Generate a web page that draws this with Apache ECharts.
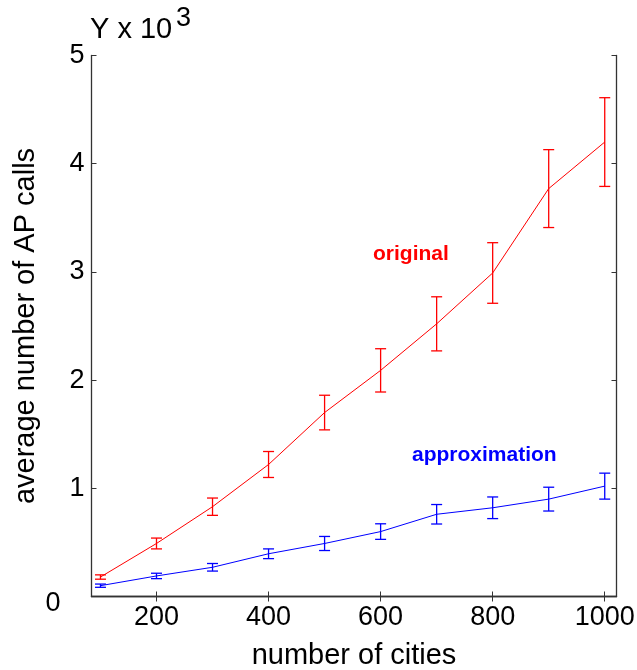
<!DOCTYPE html>
<html>
<head>
<meta charset="utf-8">
<script src="https://cdn.jsdelivr.net/npm/echarts@6/dist/echarts.min.js"></script>
<style>
  html, body { margin: 0; padding: 0; background: #fff; }
  #chart { width: 637px; height: 670px; }
</style>
</head>
<body>
<div id="chart"></div>
<script>
// Number of cities (x) and average AP calls in thousands (y) with error half-widths
const cities = [100, 200, 300, 400, 500, 600, 700, 800, 900, 1000];
const originalMean = [0.18, 0.49, 0.83, 1.22, 1.70, 2.09, 2.52, 2.99, 3.77, 4.20];
const originalErr  = [0.02, 0.05, 0.08, 0.12, 0.16, 0.20, 0.25, 0.28, 0.36, 0.41];
const approxMean   = [0.10, 0.19, 0.27, 0.395, 0.49, 0.60, 0.76, 0.82, 0.90, 1.02];
const approxErr    = [0.015, 0.025, 0.035, 0.045, 0.065, 0.072, 0.09, 0.10, 0.11, 0.12];
const xTicks = [200, 400, 600, 800, 1000];
const yTicks = [0, 1, 2, 3, 4, 5];

const FONT = 'Liberation Sans, Arial, sans-serif';
const AXIS_COLOR = '#333';
const RED = '#ff0000';
const BLUE = '#0000ff';

function pairs(xs, ys) { return xs.map((x, i) => [x, ys[i]]); }
function errData(xs, ys, es) { return xs.map((x, i) => [x, ys[i] - es[i], ys[i] + es[i]]); }

// Vertical error bar with horizontal caps
function errorBarRenderer(color) {
  return function (params, api) {
    const x = api.value(0);
    const lo = api.coord([x, api.value(1)]);
    const hi = api.coord([x, api.value(2)]);
    const half = 5.5;
    const style = { stroke: color, lineWidth: 1.3 };
    return {
      type: 'group',
      children: [
        { type: 'line', shape: { x1: lo[0], y1: lo[1], x2: hi[0], y2: hi[1] }, style },
        { type: 'line', shape: { x1: lo[0] - half, y1: lo[1], x2: lo[0] + half, y2: lo[1] }, style },
        { type: 'line', shape: { x1: hi[0] - half, y1: hi[1], x2: hi[0] + half, y2: hi[1] }, style }
      ]
    };
  };
}

const axisLine = { show: true, lineStyle: { color: AXIS_COLOR, width: 1.3 } };
const tick = (vals) => ({ show: true, inside: true, length: 5, customValues: vals, lineStyle: { color: AXIS_COLOR, width: 1 } });
const plain = (v) => String(v);
// The zero label sits lower-left, clear of the x tick labels
const yLabel = (v) => (v === 0 ? '{z|0}' : String(v));

const chart = echarts.init(document.getElementById('chart'));
chart.setOption({
  animation: false,
  backgroundColor: '#fff',
  grid: { left: 91.5, right: 20.5, top: 55.5, bottom: 73.5, containLabel: false, outerBoundsMode: 'none' },
  xAxis: [
    {
      type: 'value', min: 84, max: 1021, position: 'bottom',
      axisLine, axisTick: tick(xTicks), splitLine: { show: false },
      axisLabel: { customValues: xTicks, formatter: plain, fontFamily: FONT, fontSize: 27, color: '#000', margin: 8 },
      name: 'number of cities', nameLocation: 'middle', nameGap: 45, nameMoveOverlap: false,
      nameTextStyle: { fontFamily: FONT, fontSize: 29, color: '#000' }
    },
    {
      type: 'value', min: 84, max: 1021, position: 'top',
      axisLine, axisTick: tick(xTicks), axisLabel: { show: false }, splitLine: { show: false }
    }
  ],
  yAxis: [
    {
      type: 'value', min: 0, max: 5, position: 'left',
      axisLine, axisTick: tick(yTicks), splitLine: { show: false },
      axisLabel: {
        customValues: yTicks, formatter: yLabel, fontFamily: FONT, fontSize: 27, color: '#000', margin: 7,
        rich: { z: { fontFamily: FONT, fontSize: 27, color: '#000', padding: [14, 24, 0, 0] } }
      },
      name: 'average number of AP calls', nameLocation: 'middle', nameGap: 51, nameMoveOverlap: false,
      nameTextStyle: { fontFamily: FONT, fontSize: 29, color: '#000' }
    },
    {
      type: 'value', min: 0, max: 5, position: 'right',
      axisLine, axisTick: tick(yTicks), axisLabel: { show: false }, splitLine: { show: false }
    }
  ],
  series: [
    {
      name: 'original', type: 'line', data: pairs(cities, originalMean),
      showSymbol: false, symbol: 'none', lineStyle: { color: RED, width: 1 }, z: 3
    },
    {
      name: 'original error', type: 'custom', data: errData(cities, originalMean, originalErr),
      renderItem: errorBarRenderer(RED), encode: { x: 0, y: [1, 2] }, z: 4
    },
    {
      name: 'approximation', type: 'line', data: pairs(cities, approxMean),
      showSymbol: false, symbol: 'none', lineStyle: { color: BLUE, width: 1 }, z: 3
    },
    {
      name: 'approximation error', type: 'custom', data: errData(cities, approxMean, approxErr),
      renderItem: errorBarRenderer(BLUE), encode: { x: 0, y: [1, 2] }, z: 4
    }
  ],
  graphic: [
    {
      type: 'text', left: 90, top: 15,
      style: { text: 'Y x 10', fontFamily: FONT, fontSize: 29, fill: '#000' }
    },
    {
      type: 'text', left: 176, top: 5,
      style: { text: '3', fontFamily: FONT, fontSize: 27, fill: '#000' }
    },
    {
      type: 'text', left: 373, top: 244,
      style: { text: 'original', fontFamily: FONT, fontSize: 21, fontWeight: 'bold', fill: RED }
    },
    {
      type: 'text', left: 412, top: 445,
      style: { text: 'approximation', fontFamily: FONT, fontSize: 21, fontWeight: 'bold', fill: BLUE }
    }
  ]
});
</script>
</body>
</html>
